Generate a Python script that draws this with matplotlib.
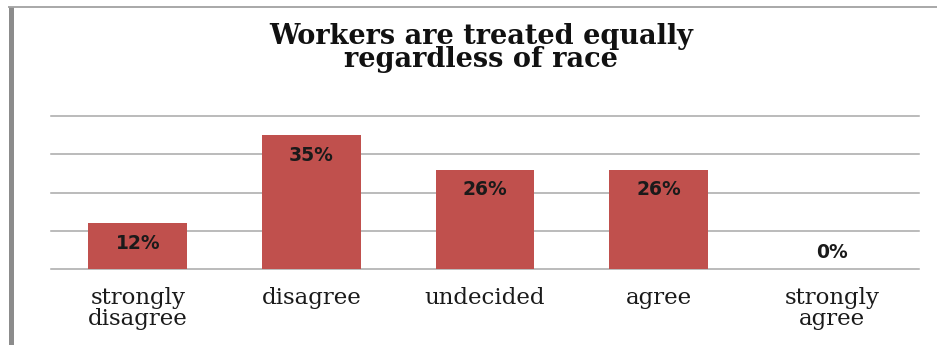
import matplotlib
matplotlib.use("Agg")
import matplotlib.pyplot as plt
from matplotlib.lines import Line2D

# Survey responses
categories = ["strongly\ndisagree", "disagree", "undecided", "agree", "strongly\nagree"]
percentages = [12, 35, 26, 26, 0]
value_labels = ["12%", "35%", "26%", "26%", "0%"]
gridline_values = [0, 10, 20, 30, 40]
title_text = "Workers are treated equally\nregardless of race"

W, H = 947, 345
DPI = 100
fig = plt.figure(figsize=(W / DPI, H / DPI), dpi=DPI)
fig.patch.set_facecolor("white")

# Plot area in pixel coordinates
left_px, right_px = 51, 919
base_px, top_px = 269, 116
ax = fig.add_axes([left_px / W, 1 - base_px / H,
                   (right_px - left_px) / W, (base_px - top_px) / H])

bar_color = "#C0504D"
grid_color = "#A8A8A8"

x = list(range(len(categories)))
ax.bar(x, percentages, width=0.57, color=bar_color, zorder=3)
ax.set_xlim(-0.5, len(categories) - 0.5)
ax.set_ylim(0, 40)

for g in gridline_values:
    ax.axhline(g, color=grid_color, lw=1.1, zorder=1, clip_on=False)

for s in ax.spines.values():
    s.set_visible(False)
ax.set_yticks([])
ax.set_xticks(x)
ax.set_xticklabels(categories, fontsize=16.5, family="DejaVu Serif",
                   color="#1a1a1a", linespacing=0.95)
ax.tick_params(axis="x", length=0, pad=13)

# Value labels: inside the top of each bar, above the axis for empty bars
for xi, v, lab in zip(x, percentages, value_labels):
    off = -20 if v > 0 else 17
    ax.annotate(lab, (xi, v), xytext=(0, off), textcoords="offset pixels",
                ha="center", va="center", fontsize=13.5, fontweight="bold",
                family="DejaVu Sans", color="#1a1a1a", zorder=4)

# Two-line title
fig.text(481 / W, 1 - 67 / H, title_text, ha="center", va="baseline",
         multialignment="center", fontsize=19.5, fontweight="bold",
         family="DejaVu Serif", color="#111111", linespacing=0.82)

# Frame: grey left edge and thin top rule
fig.add_artist(Line2D([10.5 / W, 10.5 / W], [0, 1 - 7 / H], transform=fig.transFigure,
                      color="#8C8C8C", lw=3.6, solid_capstyle="butt"))
fig.add_artist(Line2D([8 / W, 937 / W], [1 - 7 / H, 1 - 7 / H], transform=fig.transFigure,
                      color="#9A9A9A", lw=1.2, solid_capstyle="butt"))

fig.savefig("out.png", dpi=DPI, facecolor="white")
